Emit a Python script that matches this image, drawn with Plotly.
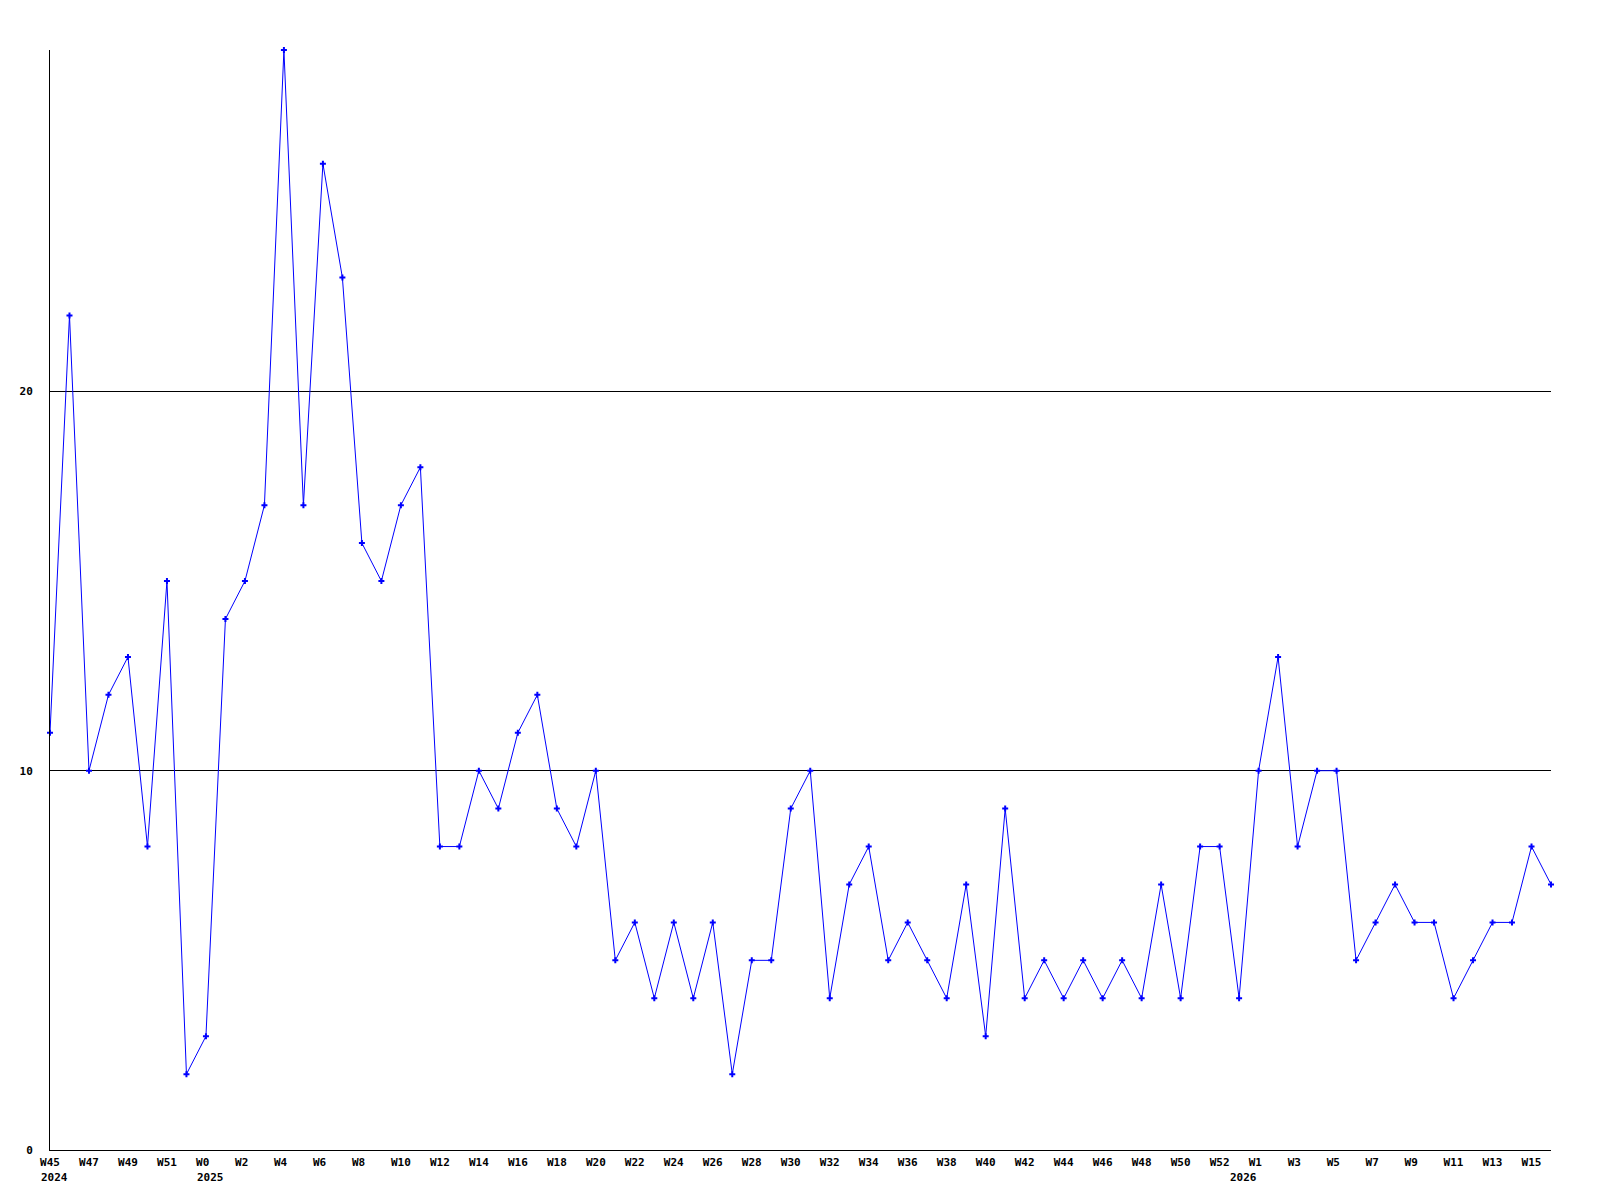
import plotly.graph_objects as go

# Week labels for every point (year, week)
years = [2024] * 8 + [2025] * 53 + [2026] * 17
weeks = list(range(45, 53)) + list(range(0, 53)) + list(range(0, 17))
values = [11, 22, 10, 12, 13, 8, 15, 2, 3, 14, 15, 17, 29, 17, 26, 23, 16, 15, 17, 18,
          8, 8, 10, 9, 11, 12, 9, 8, 10, 5, 6, 4, 6, 4, 6, 2, 5, 5, 9, 10,
          4, 7, 8, 5, 6, 5, 4, 7, 3, 9, 4, 5, 4, 5, 4, 5, 4, 7, 4, 8,
          8, 4, 10, 13, 8, 10, 10, 5, 6, 7, 6, 6, 4, 5, 6, 6, 8, 7]
y_ticks = [0, 10, 20]

idx = list(range(len(values)))
tick_idx = idx[::2]
tick_text = [("W%d" % weeks[i]).ljust(3, "\u00a0") for i in tick_idx]

# first index of each year
year_start = {}
for i, yv in enumerate(years):
    year_start.setdefault(yv, i)

font = dict(family="DejaVu Sans Mono", size=11, color="black", weight="bold")

fig = go.Figure()
fig.add_trace(go.Scatter(
    x=idx, y=values, mode="lines+markers",
    line=dict(color="#0000ff", width=1),
    marker=dict(symbol="cross", size=5, color="#0000ff", line=dict(width=0)),
    cliponaxis=False, showlegend=False, hoverinfo="skip",
))

for yv, i in year_start.items():
    fig.add_annotation(x=i, y=0, xref="x", yref="paper", text=str(yv),
                       showarrow=False, xanchor="left", yanchor="top",
                       xshift=-11, yshift=-19, font=font)

fig.update_layout(
    width=1600, height=1200,
    margin=dict(l=42, r=57, t=42, b=58),
    paper_bgcolor="white", plot_bgcolor="white",
    font=font,
)
fig.update_xaxes(
    range=[0, len(values) - 1], tickmode="array", tickvals=tick_idx, ticktext=tick_text,
    showgrid=False, zeroline=False, showline=True, linecolor="black", linewidth=1,
    ticks="", tickangle=0, ticklabelstandoff=2, tickfont=font,
)
fig.update_yaxes(
    range=[0, 29], tickmode="array", tickvals=y_ticks, ticktext=[str(v) for v in y_ticks],
    showgrid=True, gridcolor="black", gridwidth=1, zeroline=False,
    showline=True, linecolor="black", linewidth=1, ticks="", ticklabelstandoff=14,
    tickfont=font,
)

fig.write_html("out.html")
